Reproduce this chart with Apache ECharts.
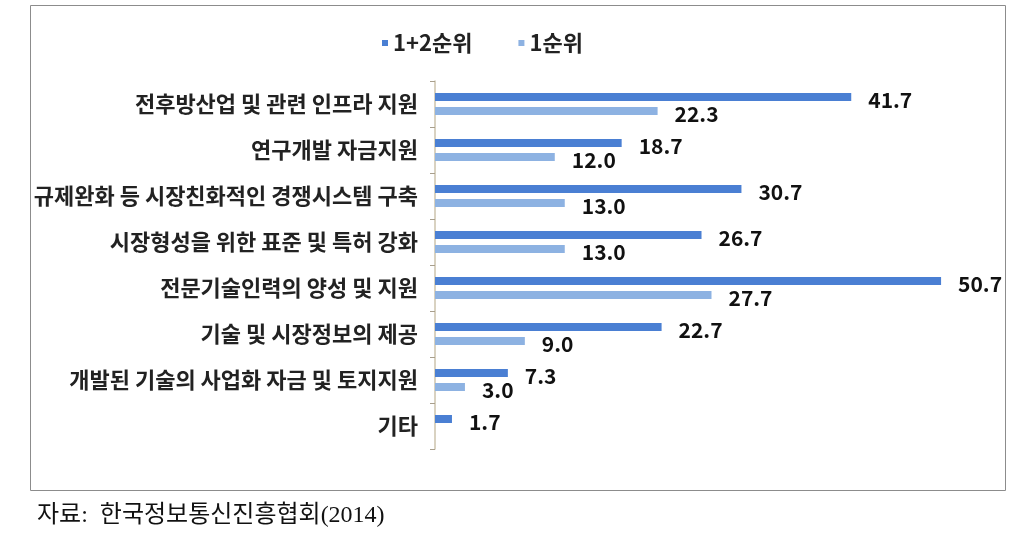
<!DOCTYPE html>
<html><head><meta charset="utf-8">
<script src="https://cdn.jsdelivr.net/npm/echarts@6/dist/echarts.min.js"></script>
<style>html,body{margin:0;padding:0;background:#fff}#c{width:1030px;height:552px}</style>
</head><body><div id="c"></div>
<script>
const categories = ['전후방산업 및 관련 인프라 지원','연구개발 자금지원','규제완화 등 시장친화적인 경쟁시스템 구축','시장형성을 위한 표준 및 특허 강화','전문기술인력의 양성 및 지원','기술 및 시장정보의 제공','개발된 기술의 사업화 자금 및 토지지원','기타'];
const rank12 = [41.7, 18.7, 30.7, 26.7, 50.7, 22.7, 7.3, 1.7];
const rank1 = [22.3, 12.0, 13.0, 13.0, 27.7, 9.0, 3.0, null];
const seriesNames = ['1+2순위', '1순위'];
const sourceText = '자료:  한국정보통신진흥협회(2014)';

const chart = echarts.init(document.getElementById('c'));
const lbl = {show:true, position:'right', distance:17, offset:[0,3], color:'#111', fontSize:21, fontWeight:'bold', fontFamily:'Noto Sans CJK KR', formatter: p => p.value==null?'':p.value.toFixed(1)};
chart.setOption({
  animation:false,
  legend:{top:27, left:377, itemWidth:6, itemHeight:6, itemGap:46, icon:'rect',
    textStyle:{fontSize:22, fontWeight:'bold', color:'#222', fontFamily:'Noto Sans CJK KR'}},
  grid:{left:435, top:81, width:549, height:368},
  xAxis:{type:'value', min:0, max:55, show:false},
  yAxis:{type:'category', data:categories, inverse:true,
    axisLine:{lineStyle:{color:'#cdc3ad', width:1.5}},
    axisTick:{show:true, length:5, lineStyle:{color:'#a89f8c'}},
    axisLabel:{fontSize:22, fontWeight:'bold', color:'#222', margin:17, fontFamily:'Noto Sans CJK KR'}},
  series:[
    {name:seriesNames[0], type:'bar', data:rank12, barWidth:8, barGap:'75%', itemStyle:{color:'#4a7fd3'}, label:lbl},
    {name:seriesNames[1], type:'bar', data:rank1, barWidth:8, itemStyle:{color:'#8db2e2'}, label:lbl}
  ],
  graphic:[
    {type:'rect', shape:{x:30.5, y:5.5, width:975, height:485}, style:{fill:null, stroke:'#8c8c8c', lineWidth:1}},
    {type:'text', left:37, top:504, style:{text:sourceText, fontSize:24, fill:'#111', fontFamily:'Liberation Serif, Noto Sans CJK KR'}}
  ]
});
</script></body></html>
